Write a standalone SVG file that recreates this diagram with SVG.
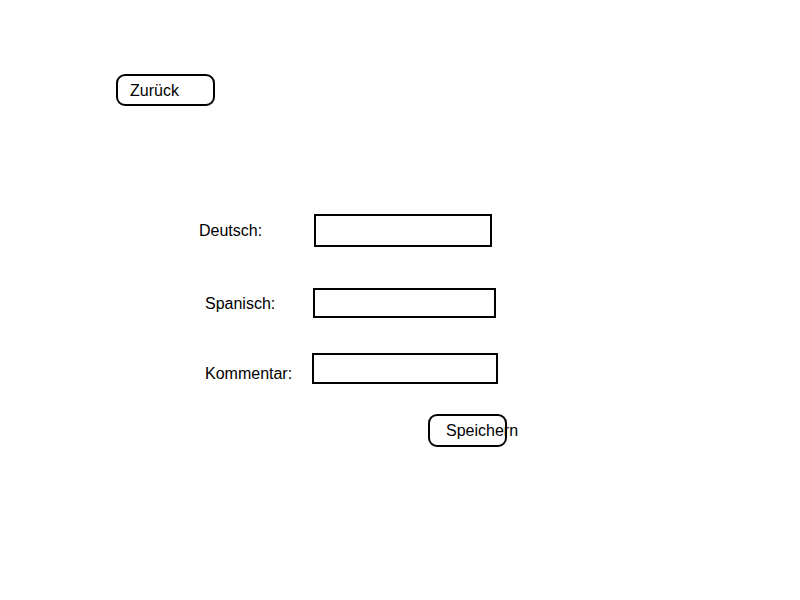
<svg xmlns="http://www.w3.org/2000/svg" width="800" height="600" viewBox="0 0 800 600">
<style>
.box{fill:#fff;stroke:#000;stroke-width:2}
.t{font-family:"Liberation Sans",Arial,sans-serif;font-size:16px;fill:#000}
</style>
<rect width="800" height="600" fill="#fff"/>
<g id="zurueck"><rect class="box" x="117" y="75" width="97" height="30" rx="8"/><text class="t" x="130" y="96">Zurück</text></g>
<g id="deutsch-label"><text class="t" x="199" y="236">Deutsch:</text></g>
<g id="deutsch-input"><rect class="box" x="315" y="215" width="176" height="31"/></g>
<g id="spanisch-label"><text class="t" x="205" y="309">Spanisch:</text></g>
<g id="spanisch-input"><rect class="box" x="314" y="289" width="181" height="28"/></g>
<g id="kommentar-label"><text class="t" x="205" y="379">Kommentar:</text></g>
<g id="kommentar-input"><rect class="box" x="313" y="354" width="184" height="29"/></g>
<g id="speichern"><rect class="box" x="429" y="415" width="77" height="31" rx="8"/><text class="t" x="446" y="436">Speichern</text></g>
<g id="connectors"/>
</svg>
